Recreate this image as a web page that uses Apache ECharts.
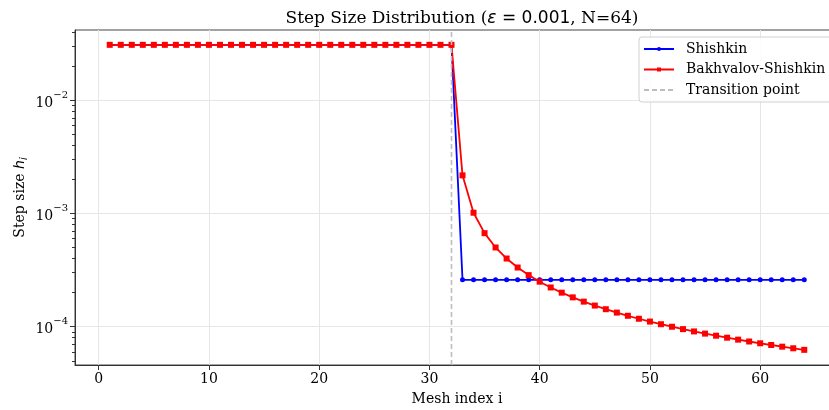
<!DOCTYPE html>
<html>
<head>
<meta charset="utf-8">
<script src="https://cdn.jsdelivr.net/npm/echarts@6/dist/echarts.min.js"></script>
<style>html,body{margin:0;padding:0;background:#fff}#c{width:829px;height:410px}</style>
</head>
<body>
<div id="c"></div>
<script>
// Mesh indices
const meshIndex = [1,2,3,4,5,6,7,8,9,10,11,12,13,14,15,16,17,18,19,20,21,22,23,24,25,26,27,28,29,30,31,32,
  33,34,35,36,37,38,39,40,41,42,43,44,45,46,47,48,49,50,51,52,53,54,55,56,57,58,59,60,61,62,63,64];
// Step sizes h_i
const shishkin = [
  0.03099,0.03099,0.03099,0.03099,0.03099,0.03099,0.03099,0.03099,0.03099,0.03099,0.03099,0.03099,0.03099,0.03099,0.03099,0.03099,
  0.03099,0.03099,0.03099,0.03099,0.03099,0.03099,0.03099,0.03099,0.03099,0.03099,0.03099,0.03099,0.03099,0.03099,0.03099,0.03099,
  0.00025993,0.00025993,0.00025993,0.00025993,0.00025993,0.00025993,0.00025993,0.00025993,
  0.00025993,0.00025993,0.00025993,0.00025993,0.00025993,0.00025993,0.00025993,0.00025993,
  0.00025993,0.00025993,0.00025993,0.00025993,0.00025993,0.00025993,0.00025993,0.00025993,
  0.00025993,0.00025993,0.00025993,0.00025993,0.00025993,0.00025993,0.00025993,0.00025993];
const bakhvalovShishkin = [
  0.03099,0.03099,0.03099,0.03099,0.03099,0.03099,0.03099,0.03099,0.03099,0.03099,0.03099,0.03099,0.03099,0.03099,0.03099,0.03099,
  0.03099,0.03099,0.03099,0.03099,0.03099,0.03099,0.03099,0.03099,0.03099,0.03099,0.03099,0.03099,0.03099,0.03099,0.03099,0.03099,
  0.0021763,0.0010174,0.00067113,0.00050163,0.00040070,0.00033367,0.00028586,0.00025008,
  0.00022225,0.00020001,0.00018182,0.00016665,0.00015383,0.00014284,0.00013331,0.00012498,
  0.00011763,0.00011109,0.00010524,0.00009998,0.00009522,0.00009089,0.00008694,0.00008332,
  0.00007999,0.00007691,0.00007406,0.00007141,0.00006895,0.00006665,0.00006451,0.00006249];
const transitionIndex = 32;
const xTicks = [0,10,20,30,40,50,60];
const yMajorTicks = [0.0001,0.001,0.01];
const yMinorTicks = [0.00005,0.00006,0.00007,0.00008,0.00009,
  0.0002,0.0003,0.0004,0.0005,0.0006,0.0007,0.0008,0.0009,
  0.002,0.003,0.004,0.005,0.006,0.007,0.008,0.009,0.02,0.03,0.04];
const xRange = [-2.15, 67.15];
const yRange = [4.59e-5, 0.0419];

const serif = '"DejaVu Serif", "Liberation Serif", serif';
const sans = '"DejaVu Sans", sans-serif';

const pair = (xs, ys) => xs.map((x, i) => [x, ys[i]]);

const chart = echarts.init(document.getElementById('c'), null, {renderer: 'canvas'});
chart.setOption({
  animation: false,
  backgroundColor: '#fff',
  title: {
    text: '{a|Step Size Distribution (}{e|ε}{m| = 0.001}{a|, N=64)}',
    left: 457, top: 5, textAlign: 'center',
    textStyle: {
      fontWeight: 'normal',
      rich: {
        a: {fontFamily: serif, fontSize: 17, fontWeight: 'normal', color: '#000'},
        e: {fontFamily: sans, fontStyle: 'italic', fontWeight: 'normal', fontSize: 17, color: '#000'},
        m: {fontFamily: sans, fontSize: 17, fontWeight: 'normal', color: '#000'}
      }
    }
  },
  grid: {left: 75, top: 30, right: -10, bottom: 45, outerBoundsMode: 'none', show: true, borderColor: '#444', borderWidth: 1, containLabel: false},
  legend: {
    left: 639, top: 37, orient: 'vertical',
    itemWidth: 30, itemHeight: 5, itemGap: 6.5,
    padding: [5, 8, 5, 4],
    borderColor: '#d0d0d0', borderWidth: 1, borderRadius: 3,
    backgroundColor: 'rgba(255,255,255,0.85)',
    textStyle: {fontFamily: serif, fontSize: 14, color: '#000', padding: [0, 0, 0, 7]},
    data: ['Shishkin', 'Bakhvalov-Shishkin',
      {name: 'Transition point', itemStyle: {color: 'rgba(0,0,0,0)', borderWidth: 0}}]
  },
  xAxis: {
    type: 'value', min: xRange[0], max: xRange[1],
    name: 'Mesh index i', nameLocation: 'middle', nameGap: 27,
    nameTextStyle: {fontFamily: serif, fontSize: 14, color: '#000'},
    axisLine: {show: true, onZero: false, lineStyle: {color: '#333', width: 1}},
    axisTick: {show: true, length: 5, lineStyle: {color: '#333'}, customValues: xTicks},
    axisLabel: {fontFamily: serif, fontSize: 14, color: '#000', margin: 7, customValues: xTicks},
    splitLine: {show: true, lineStyle: {color: '#e6e6e6', width: 1}}
  },
  yAxis: [{
    type: 'log', logBase: 10, min: yRange[0], max: yRange[1],
    name: '{a|Step size }{h|h}{s|i}', nameLocation: 'middle', nameGap: 46, nameMoveOverlap: false,
    nameTextStyle: {
      rich: {
        a: {fontFamily: serif, fontSize: 14, color: '#000', lineHeight: 18},
        h: {fontFamily: sans, fontStyle: 'italic', fontSize: 14, color: '#000', lineHeight: 18},
        s: {fontFamily: sans, fontStyle: 'italic', fontSize: 10, color: '#000', lineHeight: 18, verticalAlign: 'bottom', padding: [6, 0, 0, 0]}
      }
    },
    axisLine: {show: true, onZero: false, lineStyle: {color: '#333', width: 1}},
    axisTick: {show: true, length: 5, lineStyle: {color: '#333'}, customValues: yMajorTicks},
    axisLabel: {
      customValues: yMajorTicks,
      margin: 7,
      formatter: function (v) {
        const l = Math.log10(v);
        const r = Math.round(l);
        if (Math.abs(l - r) > 1e-6) return '';
        return '{b|10}{s|\u2212' + Math.abs(r) + '}';
      },
      rich: {
        b: {fontFamily: serif, fontSize: 14, color: '#000', lineHeight: 20, verticalAlign: 'bottom'},
        s: {fontFamily: serif, fontSize: 10, color: '#000', lineHeight: 20, verticalAlign: 'top', padding: [0, 0, 8, 0]}
      }
    },
    splitLine: {show: true, lineStyle: {color: '#e6e6e6', width: 1}}
  }, {
    type: 'log', logBase: 10, min: yRange[0], max: yRange[1], position: 'left',
    axisLine: {show: false, onZero: false},
    axisTick: {show: true, length: 3, lineStyle: {color: '#333'}, customValues: yMinorTicks},
    axisLabel: {show: false},
    splitLine: {show: false}
  }],
  series: [
    {
      name: 'Shishkin', type: 'line', yAxisIndex: 0,
      data: pair(meshIndex, shishkin),
      color: '#0000ff',
      symbol: 'circle', symbolSize: 5, showAllSymbol: true,
      lineStyle: {color: '#0000ff', width: 1.8},
      itemStyle: {color: '#0000ff'},
      z: 3
    },
    {
      name: 'Bakhvalov-Shishkin', type: 'line', yAxisIndex: 0,
      data: pair(meshIndex, bakhvalovShishkin),
      color: '#ff0000',
      symbol: 'rect', symbolSize: 6, showAllSymbol: true,
      lineStyle: {color: '#ff0000', width: 1.8},
      itemStyle: {color: '#ff0000'},
      z: 4
    },
    {
      name: 'Transition point', type: 'line', yAxisIndex: 0,
      data: [[transitionIndex, yRange[0]], [transitionIndex, yRange[1]]],
      color: '#bdbdbd',
      symbol: 'none',
      lineStyle: {color: '#bdbdbd', width: 1.6, type: [5, 3]},
      itemStyle: {color: '#bdbdbd'},
      z: 5
    }
  ]
});
</script>
</body>
</html>
